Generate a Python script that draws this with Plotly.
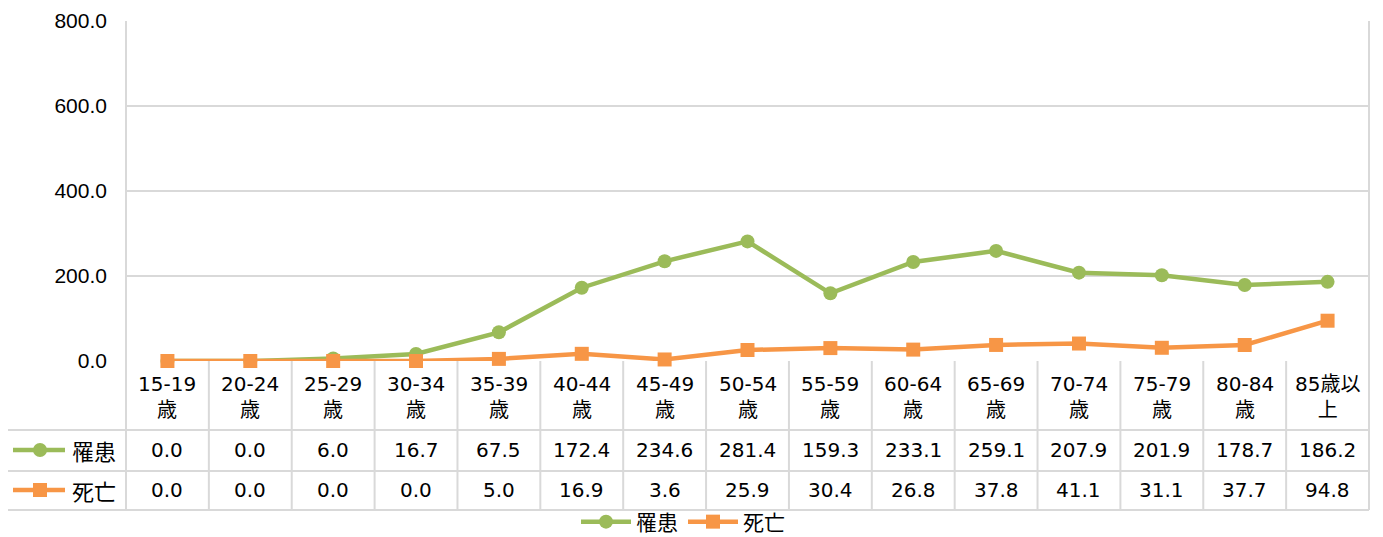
import plotly.graph_objects as go

categories = ["15-19<br>歳", "20-24<br>歳", "25-29<br>歳", "30-34<br>歳", "35-39<br>歳",
              "40-44<br>歳", "45-49<br>歳", "50-54<br>歳", "55-59<br>歳", "60-64<br>歳",
              "65-69<br>歳", "70-74<br>歳", "75-79<br>歳", "80-84<br>歳", "85歳以<br>上"]
incidence = [0.0, 0.0, 6.0, 16.7, 67.5, 172.4, 234.6, 281.4, 159.3, 233.1, 259.1, 207.9, 201.9, 178.7, 186.2]
death = [0.0, 0.0, 0.0, 0.0, 5.0, 16.9, 3.6, 25.9, 30.4, 26.8, 37.8, 41.1, 31.1, 37.7, 94.8]
series_names = ["罹患", "死亡"]
y_ticks = [0, 200, 400, 600, 800]

GREEN = "#9BBB59"
ORANGE = "#F79646"
GRID = "#D9D9D9"
OFF = 8  # page body margin offset
W, H = 1383 - OFF, 537 - OFF
# viewport pixel targets
PLOT_L, PLOT_R, PLOT_T, PLOT_Z = 126, 1369, 21, 361
L, R, T = PLOT_L - OFF, 1383 - PLOT_R, PLOT_T - OFF
B = H - (PLOT_Z - OFF)
PW = W - L - R
PH = H - T - B

def py(p):
    # viewport pixel row -> paper y
    return (PLOT_Z - p) / PH

def px(q):
    # viewport pixel column -> paper x
    return (q - PLOT_L) / PW

JP = "Noto Sans CJK JP, sans-serif"
NUM = "DejaVu Sans, Noto Sans CJK JP, sans-serif"
xs = list(range(len(categories)))

fig = go.Figure()
fig.add_trace(go.Scatter(x=xs, y=incidence, name=series_names[0], mode="lines+markers",
                         line=dict(color=GREEN, width=4.5),
                         marker=dict(symbol="circle", size=14, color=GREEN),
                         cliponaxis=False))
fig.add_trace(go.Scatter(x=xs, y=death, name=series_names[1], mode="lines+markers",
                         line=dict(color=ORANGE, width=4.5),
                         marker=dict(symbol="square", size=14, color=ORANGE),
                         cliponaxis=False))

shapes = []
lw = 2
for xp in (0, 1):
    shapes.append(dict(type="line", xref="paper", yref="paper", x0=xp, x1=xp,
                       y0=1, y1=py(510), line=dict(color=GRID, width=lw), layer="below"))
for yp in (430, 471, 510):
    shapes.append(dict(type="line", xref="paper", yref="paper", x0=px(6), x1=1,
                       y0=py(yp), y1=py(yp), line=dict(color=GRID, width=lw), layer="below"))
shapes.append(dict(type="line", xref="paper", yref="paper", x0=px(6), x1=px(6),
                   y0=py(430), y1=py(510), line=dict(color=GRID, width=lw), layer="below"))
for i in range(len(categories) - 1):
    shapes.append(dict(type="line", xref="x", yref="paper", x0=i + 0.5, x1=i + 0.5,
                       y0=0, y1=py(510), line=dict(color=GRID, width=lw), layer="below"))
for yp, col, sym in ((450, GREEN, "circle"), (490, ORANGE, "square")):
    shapes.append(dict(type="line", xref="paper", yref="paper", x0=px(13), x1=px(65),
                       y0=py(yp), y1=py(yp), line=dict(color=col, width=4.5)))
    r = 7
    shapes.append(dict(type="circle" if sym == "circle" else "rect", xref="paper", yref="paper",
                       x0=px(40 - r), x1=px(40 + r), y0=py(yp - r), y1=py(yp + r),
                       fillcolor=col, line=dict(color=col, width=0)))

annotations = []
for i, c in enumerate(categories):
    annotations.append(dict(x=i, y=py(397), xref="x", yref="paper", text=c, showarrow=False,
                            font=dict(family=NUM, size=20, color="#000"), align="center",
                            yanchor="middle", xanchor="center"))
    annotations.append(dict(x=i, y=py(450), xref="x", yref="paper", text=f"{incidence[i]:.1f}",
                            showarrow=False, font=dict(family=NUM, size=20, color="#000"),
                            yanchor="middle", xanchor="center"))
    annotations.append(dict(x=i, y=py(490), xref="x", yref="paper", text=f"{death[i]:.1f}",
                            showarrow=False, font=dict(family=NUM, size=20, color="#000"),
                            yanchor="middle", xanchor="center"))
for yp, name in ((450, series_names[0]), (490, series_names[1])):
    annotations.append(dict(x=px(70), y=py(yp), xref="paper", yref="paper", text=name,
                            showarrow=False, font=dict(family=JP, size=22, color="#000"),
                            xanchor="left", yanchor="middle"))

fig.update_layout(
    width=W, height=H,
    margin=dict(l=L, r=R, t=T, b=B, pad=0, autoexpand=False),
    paper_bgcolor="white", plot_bgcolor="white",
    xaxis=dict(range=[-0.5, len(categories) - 0.5], showticklabels=False, showgrid=False,
               zeroline=False, showline=False, fixedrange=True, automargin=False),
    yaxis=dict(range=[0, 800], tickvals=y_ticks, tickformat=".1f", showgrid=True,
               gridcolor=GRID, gridwidth=lw, zeroline=False, showline=False,
               ticklabelstandoff=18, automargin=False,
               tickfont=dict(family="Liberation Sans, Arial, sans-serif", size=21, color="#000")),
    showlegend=True,
    legend=dict(orientation="h", xref="container", yref="container",
                x=(683 - OFF) / W, y=(537 - 522) / H,
                xanchor="center", yanchor="middle", font=dict(family=JP, size=21, color="#000"),
                itemwidth=50, bgcolor="rgba(0,0,0,0)"),
    shapes=shapes, annotations=annotations,
)

fig.write_html("out.html")
